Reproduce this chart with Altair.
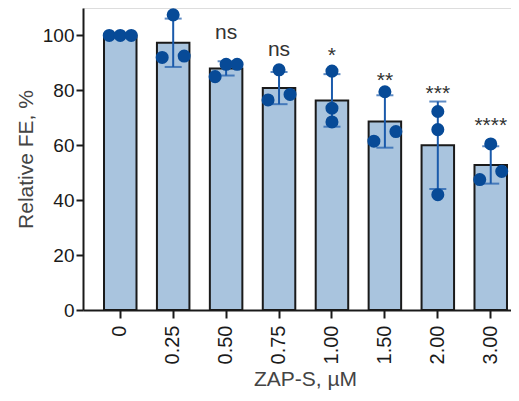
import altair as alt
import pandas as pd

# ---- data ----
conc = ["0", "0.25", "0.50", "0.75", "1.00", "1.50", "2.00", "3.00"]
rep_a = [100.0, 92.0, 85.0, 76.5, 73.5, 61.5, 65.7, 47.5]
rep_b = [100.0, 107.5, 89.5, 87.5, 87.0, 79.5, 72.3, 60.5]
rep_c = [100.0, 92.5, 89.5, 78.5, 68.5, 65.0, 42.0, 50.5]
spread = [1, 1, 1, 1, 0, 1, 0, 1]  # 1 = replicates side by side, 0 = stacked
annot = ["", "", "ns", "ns", "*", "**", "***", "****"]
annot_y = [None, None, 98.6, 92.5, 90.3, 81.2, 76.5, 64.8]

rows = []
for i, c in enumerate(conc):
    for side, vals in ((-1, rep_a), (0, rep_b), (1, rep_c)):
        rows.append({"conc": c, "value": vals[i], "jit": side * spread[i]})
pts = pd.DataFrame(rows)
ann = pd.DataFrame({"conc": conc, "label": annot, "y": annot_y})
ann = ann[ann["label"] != ""]

FONT = "Liberation Sans"
BAR_FILL = "#a9c4de"
DARK = "#1a1a1a"
PT = "#074a97"
ERR = "#1a5aab"

xscale = alt.Scale(domain=conc, range=[0, 445], paddingInner=0.386, paddingOuter=0.397)
yscale = alt.Scale(domain=[0, 110], nice=False)

XAX = alt.Axis(
    title="ZAP-S, µM",
    labelAngle=-90,
    labelFontSize=20,
    labelPadding=7,
    labelColor="#1a1a1a",
    labelFont=FONT,
    titleFont=FONT,
    titleFontSize=21,
    titleFontWeight="normal",
    titleColor="#444",
    titlePadding=5,
    titleX=222,
    tickSize=8,
    tickWidth=2,
    tickColor=DARK,
    domainWidth=2,
    domainColor=DARK,
    grid=False,
)
YAX = alt.Axis(
    title="Relative FE, %",
    values=[0, 20, 40, 60, 80, 100],
    labelFontSize=19,
    labelPadding=2,
    labelColor="#1a1a1a",
    labelFont=FONT,
    titleFont=FONT,
    titleFontSize=21,
    titleFontWeight="normal",
    titleColor="#444",
    titlePadding=6,
    tickSize=7,
    tickWidth=2,
    tickColor=DARK,
    domainWidth=2,
    domainColor=DARK,
    grid=False,
)


def X():
    return alt.X("conc:N", scale=xscale, axis=XAX)


def Y(field):
    return alt.Y(field, scale=yscale, axis=YAX)


base = alt.Chart(pts)

bars = base.mark_bar(fill=BAR_FILL, stroke=DARK, strokeWidth=2).encode(
    x=X(), y=Y("mean(value):Q")
)

stats = base.transform_aggregate(
    mean="mean(value)", sd="stdev(value)", groupby=["conc"]
).transform_calculate(lo="datum.mean - datum.sd", hi="datum.mean + datum.sd")

rules = stats.mark_rule(color=ERR, strokeWidth=2).encode(
    x=X(), y=Y("lo:Q"), y2="hi:Q"
)
cap_hi = stats.mark_tick(orient="horizontal", size=17, thickness=2, color=ERR).encode(
    x=X(), y=Y("hi:Q")
)
cap_lo = stats.mark_tick(orient="horizontal", size=17, thickness=2, color=ERR).encode(
    x=X(), y=Y("lo:Q")
)

point_layers = []
for j, off in ((-1, -11), (0, 0), (1, 11)):
    point_layers.append(
        base.transform_filter(alt.datum.jit == j)
        .mark_circle(size=170, color=PT, opacity=1, xOffset=off)
        .encode(x=X(), y=Y("value:Q"))
    )

texts = alt.Chart(ann).mark_text(
    fontSize=21, font=FONT, baseline="alphabetic", align="center", color="#333"
).encode(x=X(), y=Y("y:Q"), text="label:N")

chart = (
    alt.layer(bars, rules, cap_hi, cap_lo, *point_layers, texts)
    .properties(
        width=428,
        height=302,
        autosize=alt.AutoSizeParams(type="none"),
        padding={"left": 75, "top": 0, "right": 0, "bottom": 83},
    )
    .configure_view(strokeWidth=0, stroke="transparent")
    .configure(background="white")
)

chart.save("out.html", embed_options={"renderer": "svg", "actions": False})
